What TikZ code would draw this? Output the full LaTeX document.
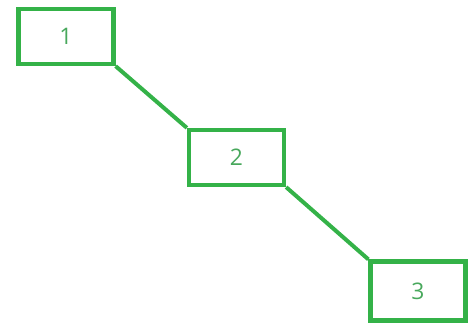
\documentclass[tikz,border=0pt]{standalone}
\usepackage{fontspec}
\setmainfont{Open Sans}
\usepackage{xcolor}
\usetikzlibrary{positioning}
\definecolor{boxgreen}{RGB}{52,178,72}
\definecolor{textgreen}{RGB}{72,168,92}
\tikzset{
box/.style={
draw=boxgreen,
line width=0.085cm,
minimum width=1.9cm,
minimum height=1.1cm,
align=center,
text=textgreen,
font=\fontsize{13}{15}\selectfont
},
link/.style={
draw=boxgreen,
line width=0.08cm
}
}
\begin{document}
\begin{tikzpicture}[x=0.02cm,y=-0.02cm]
\useasboundingbox (0,0) rectangle (468,325);
\node[box](b1) at (66,36.5){1};
\node[box](b2) at (236.5,157.5){2};
\node[box,minimum height=1.18cm](b3) at (418,291){3};

\foreach \x/\y in {b1/b2,b2/b3}
\draw[link](\x.south east)--(\y.north west);
\end{tikzpicture}
\end{document}
